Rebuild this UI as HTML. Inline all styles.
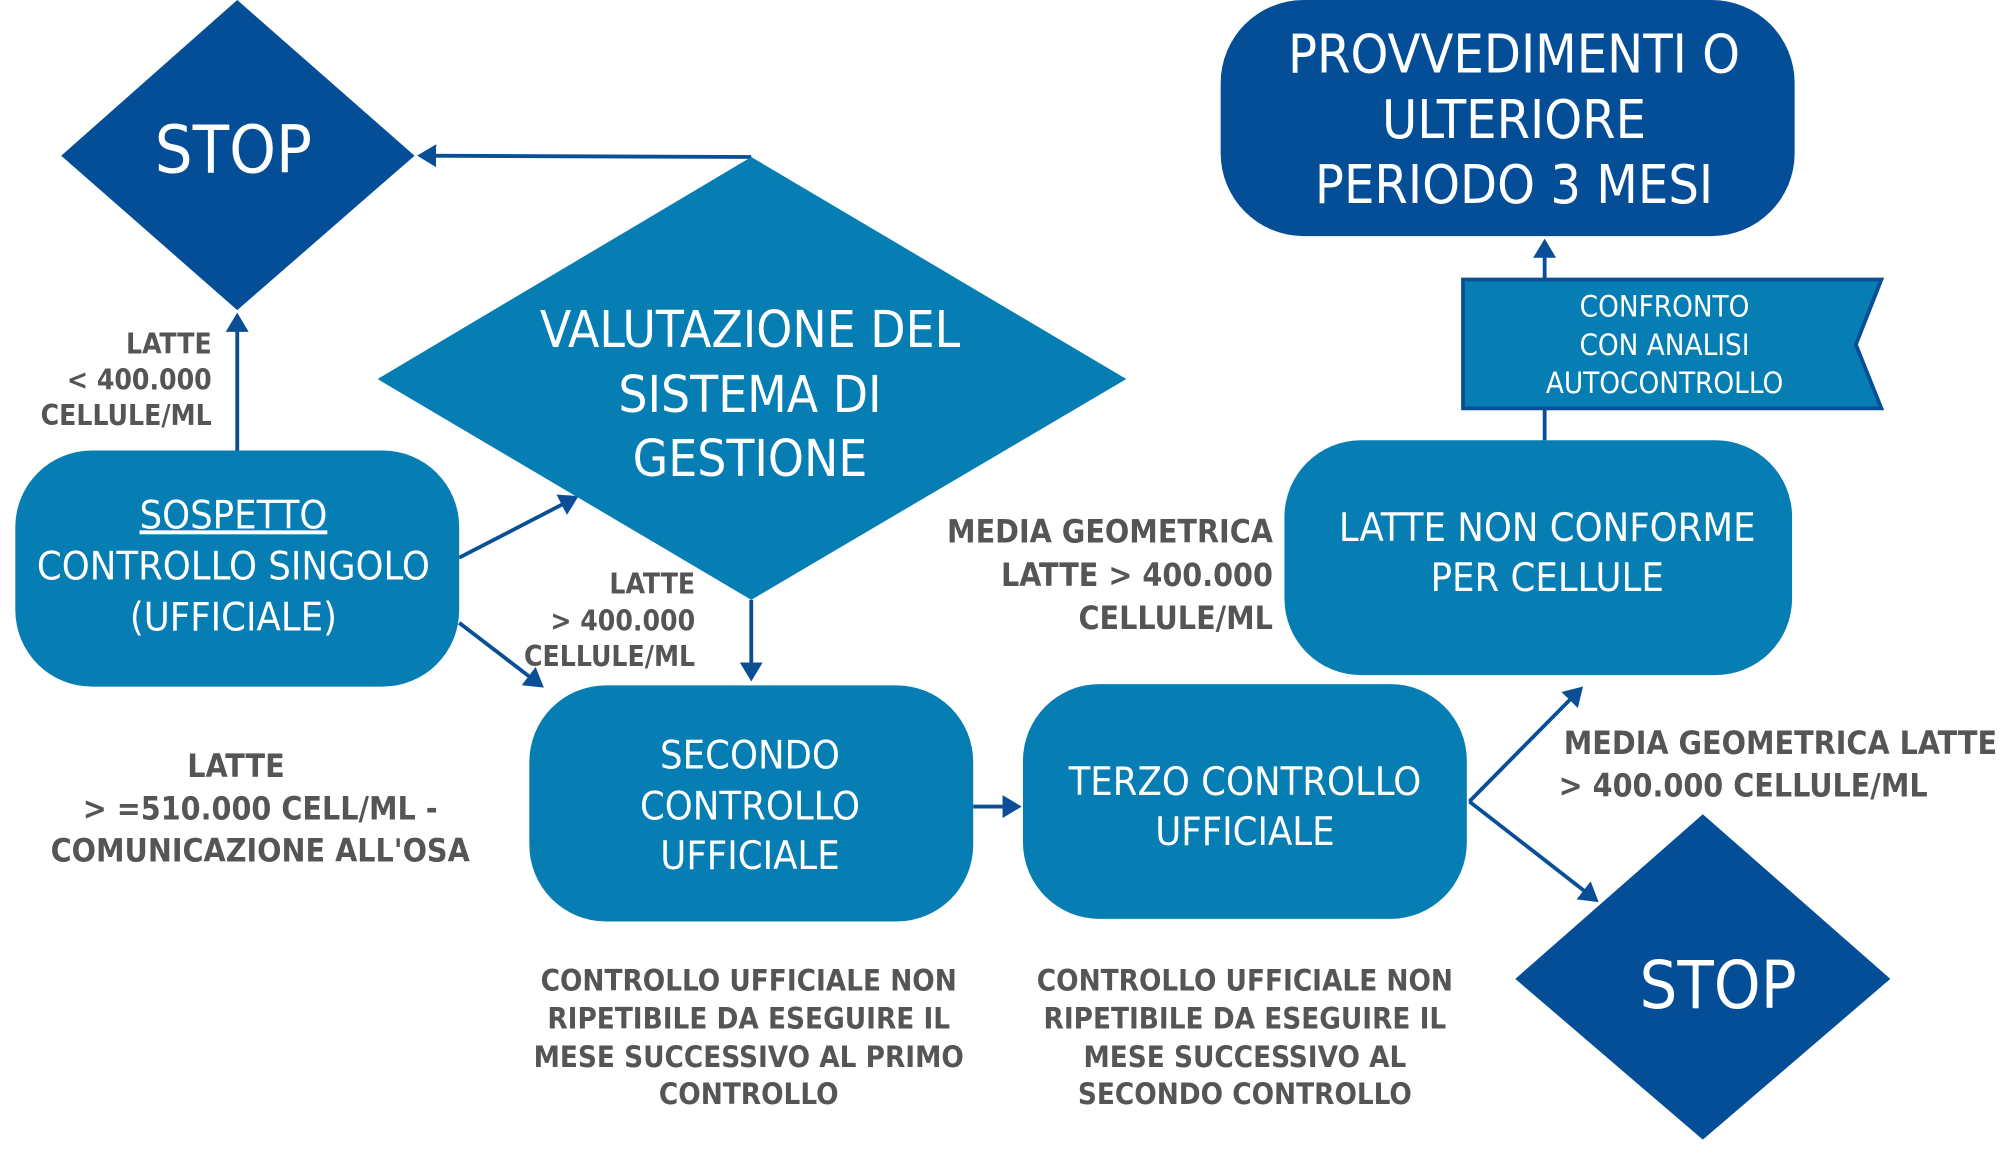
<!DOCTYPE html>
<html><head><meta charset="utf-8"><style>
html,body{margin:0;padding:0;background:#fff;}
svg{display:block;}
text{font-family:"Liberation Sans Narrow","DejaVu Sans Condensed","Liberation Sans",sans-serif;}
.w{fill:#fff;text-anchor:middle;}
.g{fill:#555;font-weight:bold;}
</style></head><body>
<svg width="2000" height="1155" viewBox="0 0 1568 905" preserveAspectRatio="none" xmlns="http://www.w3.org/2000/svg">
<defs>
<marker id="a" markerWidth="6" markerHeight="6" refX="4" refY="3" orient="auto" markerUnits="strokeWidth">
<path d="M0,0 L5,3 L0,6 z" fill="#0a4f96"/></marker>
</defs>
<g stroke="#0a4f96" stroke-width="3" fill="none">
<line x1="589" y1="123" x2="330" y2="122" marker-end="url(#a)"/>
<line x1="186" y1="353" x2="186" y2="248" marker-end="url(#a)"/>
<line x1="360" y1="437" x2="451" y2="390" marker-end="url(#a)"/>
<line x1="360" y1="488" x2="424" y2="537" marker-end="url(#a)"/>
<line x1="589" y1="470" x2="589" y2="531" marker-end="url(#a)"/>
<line x1="763" y1="632" x2="798" y2="632" marker-end="url(#a)"/>
<line x1="1152" y1="628" x2="1239" y2="540" marker-end="url(#a)"/>
<line x1="1152" y1="628" x2="1251" y2="705" marker-end="url(#a)"/>
<line x1="1211" y1="345" x2="1211" y2="320"/>
<line x1="1211" y1="219" x2="1211" y2="190" marker-end="url(#a)"/>
</g>
<polygon points="186,0 325,122 186,243 48,122" fill="#034e96"/>
<polygon points="589,123 883,297 589,470 296,297" fill="#067db3"/>
<polygon points="1335,638 1482,767 1335,893 1188,767" fill="#034e96"/>
<rect x="12" y="353" width="348" height="185" rx="60" fill="#067db3"/>
<rect x="415" y="537" width="348" height="185" rx="60" fill="#067db3"/>
<rect x="802" y="536" width="348" height="184" rx="60" fill="#067db3"/>
<rect x="1007" y="345" width="398" height="184" rx="60" fill="#067db3"/>
<rect x="957" y="0" width="450" height="185" rx="65" fill="#034e96"/>
<polygon points="1147,219 1475,219 1455,270 1475,320 1147,320" fill="#067db3" stroke="#0a4f96" stroke-width="3"/>

<text class="w" x="183" y="135" font-size="52">STOP</text>
<text class="w" x="1347" y="790" font-size="52">STOP</text>
<text class="w" x="588" y="272" font-size="40">VALUTAZIONE DEL</text>
<text class="w" x="588" y="323" font-size="40">SISTEMA DI</text>
<text class="w" x="588" y="373" font-size="40">GESTIONE</text>
<text class="w" x="183" y="414" font-size="31" text-decoration="underline">SOSPETTO</text>
<text class="w" x="183" y="454" font-size="31">CONTROLLO SINGOLO</text>
<text class="w" x="183" y="494" font-size="31">(UFFICIALE)</text>
<text class="w" x="588" y="602" font-size="31">SECONDO</text>
<text class="w" x="588" y="642" font-size="31">CONTROLLO</text>
<text class="w" x="588" y="681" font-size="31">UFFICIALE</text>
<text class="w" x="976" y="623" font-size="31">TERZO CONTROLLO</text>
<text class="w" x="976" y="662" font-size="31">UFFICIALE</text>
<text class="w" x="1213" y="424" font-size="31">LATTE NON CONFORME</text>
<text class="w" x="1213" y="463" font-size="31">PER CELLULE</text>
<text class="w" x="1187" y="57" font-size="42">PROVVEDIMENTI O</text>
<text class="w" x="1187" y="108" font-size="42">ULTERIORE</text>
<text class="w" x="1187" y="159" font-size="42">PERIODO 3 MESI</text>
<text class="w" x="1305" y="248" font-size="23">CONFRONTO</text>
<text class="w" x="1305" y="278" font-size="23">CON ANALISI</text>
<text class="w" x="1305" y="308" font-size="23">AUTOCONTROLLO</text>

<g class="g" font-size="22">
<text x="166" y="277" text-anchor="end">LATTE</text>
<text x="166" y="305" text-anchor="end">&lt; 400.000</text>
<text x="166" y="333" text-anchor="end">CELLULE/ML</text>
<text x="545" y="465" text-anchor="end">LATTE</text>
<text x="545" y="494" text-anchor="end">&gt; 400.000</text>
<text x="545" y="522" text-anchor="end">CELLULE/ML</text>
<text x="998" y="425" text-anchor="end" font-size="25">MEDIA GEOMETRICA</text>
<text x="998" y="459" text-anchor="end" font-size="25">LATTE  &gt; 400.000</text>
<text x="998" y="493" text-anchor="end" font-size="25">CELLULE/ML</text>
<text x="1226" y="591" font-size="25">MEDIA GEOMETRICA LATTE</text>
<text x="1222" y="624" font-size="25">&gt; 400.000 CELLULE/ML</text>
<text x="185" y="609" text-anchor="middle" font-size="25">LATTE</text>
<text x="204" y="642" text-anchor="middle" font-size="25">&gt; =510.000 CELL/ML -</text>
<text x="204" y="675" text-anchor="middle" font-size="25">COMUNICAZIONE ALL'OSA</text>
<g text-anchor="middle" font-size="23">
<text x="587" y="776">CONTROLLO UFFICIALE NON</text>
<text x="587" y="806">RIPETIBILE DA ESEGUIRE IL</text>
<text x="587" y="836">MESE SUCCESSIVO AL PRIMO</text>
<text x="587" y="865">CONTROLLO</text>
<text x="976" y="776">CONTROLLO UFFICIALE NON</text>
<text x="976" y="806">RIPETIBILE DA ESEGUIRE IL</text>
<text x="976" y="836">MESE SUCCESSIVO AL</text>
<text x="976" y="865">SECONDO CONTROLLO</text>
</g>
</g>
</svg>
</body></html>
